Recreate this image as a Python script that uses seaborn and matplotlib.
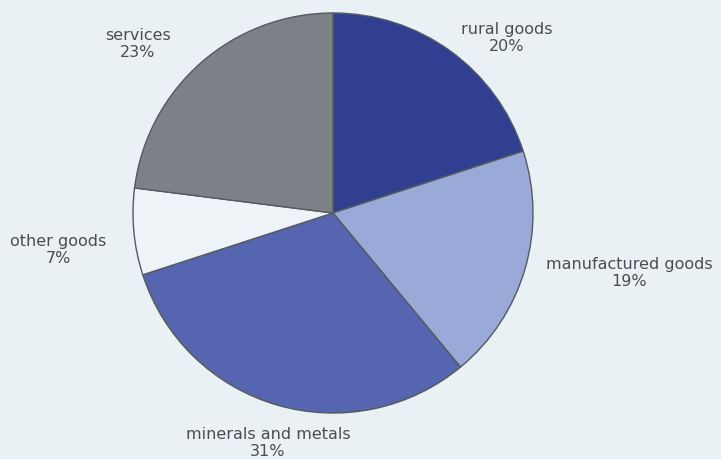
import matplotlib
matplotlib.use("Agg")
import matplotlib.pyplot as plt
import seaborn as sns

# Share of exports by product group
categories = ["rural goods", "manufactured goods", "minerals and metals", "other goods", "services"]
shares = [20, 19, 31, 7, 23]
colors = ["#303f8f", "#9aaad8", "#5565b0", "#eef3f7", "#7c8087"]

sns.set_theme(style="white")
plt.rcParams["font.family"] = ["DejaVu Sans"]

W, H = 721, 460
fig = plt.figure(figsize=(W / 100, H / 100), dpi=100)
fig.patch.set_facecolor("#e9f1f5")
ax = fig.add_axes([0, 0, 1, 1])
ax.set_facecolor("#e9f1f5")

center = (333, H - 214)
radius = 200
wedges, _ = ax.pie(
    shares,
    colors=colors,
    startangle=90,
    counterclock=False,
    center=center,
    radius=radius,
    wedgeprops=dict(edgecolor="#555a60", linewidth=1.0),
    frame=True,
)
ax.set_xlim(0, W)
ax.set_ylim(0, H)
ax.set_aspect("equal")
ax.axis("off")

# label anchor points (pixel space, y measured from top)
label_pos = {
    "rural goods": (507, 38),
    "manufactured goods": (629, 273),
    "minerals and metals": (268, 443),
    "other goods": (58, 250),
    "services": (138, 44),
}
for name, val in zip(categories, shares):
    x, y = label_pos[name]
    ax.text(x, H - y, f"{name}\n{val}%", ha="center", va="center",
            fontsize=11.5, color="#4a4d52", linespacing=1.2)

fig.savefig("out.png", dpi=100, facecolor=fig.get_facecolor())
